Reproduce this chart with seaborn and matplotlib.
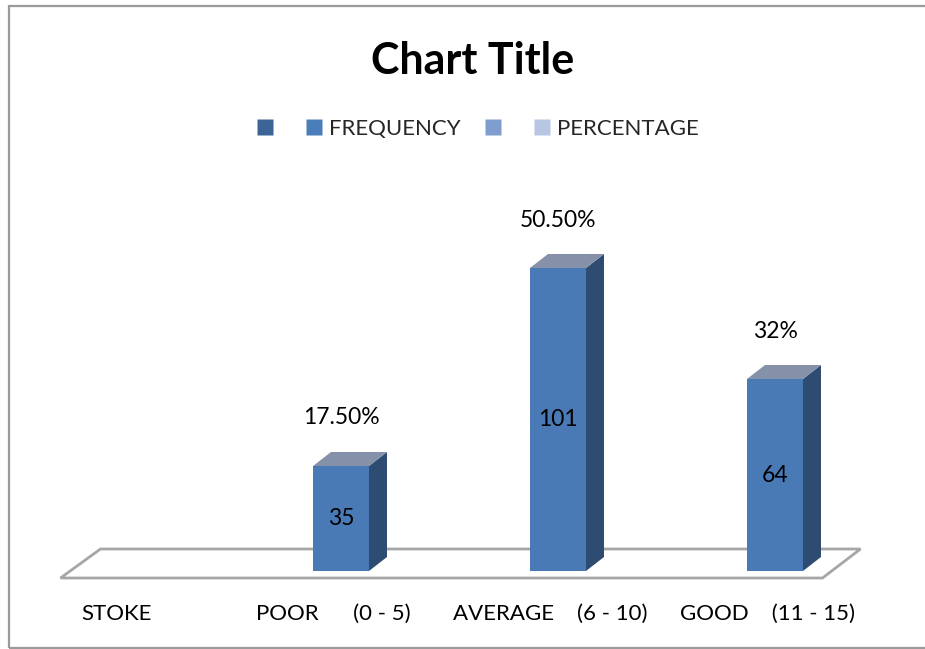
import matplotlib
matplotlib.use("Agg")
import matplotlib.pyplot as plt
from matplotlib.patches import Polygon, Rectangle
from matplotlib.lines import Line2D
from matplotlib.transforms import ScaledTranslation
import numpy as np
import pandas as pd
import seaborn as sns

# Data
categories = ["STOKE", "POOR      (0 - 5)", "AVERAGE    (6 - 10)", "GOOD    (11 - 15)"]
frequency = [np.nan, 35, 101, 64]
percentage_labels = ["", "17.50%", "50.50%", "32%"]
legend_names = ["", "FREQUENCY", "", "PERCENTAGE"]
legend_colors = ["#3C6497", "#4A7EBB", "#7F9ECD", "#B7C6E2"]

front_color = "#4A7AB6"
side_color = "#2E4B71"
top_color = "#8591A8"
floor_color = "#A6A6A6"

sns.set_theme(style="white")
plt.rcParams["font.family"] = ["Lato", "DejaVu Sans"]

df = pd.DataFrame({"category": categories, "frequency": frequency})

W, H = 925, 649
fig = plt.figure(figsize=(W / 100, H / 100), dpi=100)
fig.patch.set_facecolor("white")

# chart border
fig.add_artist(Rectangle((9 / W, 1 / H), 1.2, (H - 7) / H, transform=fig.transFigure,
                         fill=False, edgecolor="#9A9A9A", linewidth=1.6))

# axes placement: y=0 at pixel 571, 3 px per unit, 217 px per category
ax = fig.add_axes([15.5 / W, (H - 571) / H, 868 / W, 360 / H])
sns.barplot(data=df, x="category", y="frequency", color=front_color,
            width=0.258, saturation=1, ax=ax, zorder=3, edgecolor="none")
ax.set_xlim(-0.5, 3.5)
ax.set_ylim(0, 120)

# px -> data conversions
px_x = 4 / 868
px_y = 120 / 360
dx, dy = 18 * px_x, 14 * px_y

# floor parallelogram
floor = Polygon([(-0.5 + 45 * px_x, -7 * px_y), (-0.5 + 807 * px_x, -7 * px_y),
                 (-0.5 + 845 * px_x, 22 * px_y), (-0.5 + 85 * px_x, 22 * px_y)],
                closed=True, fill=True, facecolor="white", edgecolor=floor_color,
                linewidth=2, clip_on=False, zorder=1)
ax.add_patch(floor)

# 3D sides/tops from the bar geometry
for bar in ax.patches:
    if not isinstance(bar, Rectangle):
        continue
    x0, w, h = bar.get_x(), bar.get_width(), bar.get_height()
    if not np.isfinite(h) or h == 0:
        continue
    idx = int(round(x0 + w / 2))
    side = Polygon([(x0 + w, 0), (x0 + w + dx, dy), (x0 + w + dx, h + dy), (x0 + w, h)],
                   closed=True, facecolor=side_color, edgecolor="none", zorder=3, clip_on=False)
    top = Polygon([(x0, h), (x0 + w, h), (x0 + w + dx, h + dy), (x0 + dx, h + dy)],
                  closed=True, facecolor=top_color, edgecolor="none", zorder=3, clip_on=False)
    ax.add_patch(side)
    ax.add_patch(top)
    ax.text(x0 + w / 2, h / 2, f"{int(h)}", ha="center", va="center",
            fontsize=16.5, color="black", zorder=4)
    ax.text(x0 + w / 2, h + 16, percentage_labels[idx], ha="center", va="center",
            fontsize=16.5, color="black", zorder=4, clip_on=False)

for s in ax.spines.values():
    s.set_visible(False)
ax.set_yticks([])
ax.set_xlabel("")
ax.set_ylabel("")
ax.tick_params(axis="x", length=0, pad=23.5, labelsize=16, labelcolor="black")
shift = ScaledTranslation(-8 / 100, 0, fig.dpi_scale_trans)
for lbl in ax.get_xticklabels():
    lbl.set_transform(lbl.get_transform() + shift)
ax.patch.set_alpha(0)

# title
fig.text(473 / W, 1 - 61 / H, "Chart Title", ha="center", va="center",
         fontsize=31, fontweight="bold", color="black")

# legend
handles = [Line2D([0], [0], marker="s", linestyle="none", markersize=11,
                  markerfacecolor=c, markeredgecolor="none") for c in legend_colors]
fig.legend(handles, legend_names, loc="center", bbox_to_anchor=(478 / W, 1 - 129 / H),
           ncol=4, frameon=False, fontsize=16, handletextpad=0.32, columnspacing=1.15,
           handlelength=0.7)

fig.savefig("out.png", dpi=100, facecolor="white")
